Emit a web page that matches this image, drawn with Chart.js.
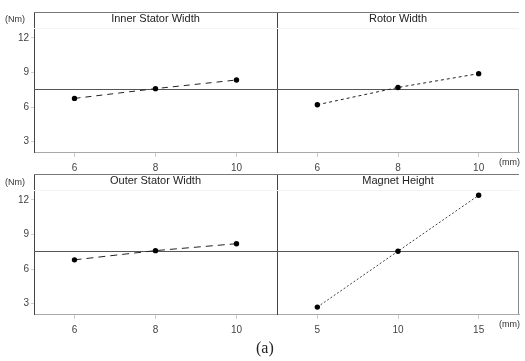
<!DOCTYPE html>
<html>
<head>
<meta charset="utf-8">
<script src="https://cdn.jsdelivr.net/npm/chart.js@4.4.1/dist/chart.umd.min.js"></script>
<style>
  body { margin: 0; background: #fff; }
  #wrap { position: relative; width: 525px; height: 361px; overflow: hidden; }
  #wrap canvas { position: absolute; left: 0; top: 0; }
  .unit { position: absolute; font: 9px "Liberation Sans", Arial, sans-serif; color: #333; }
  #caption { position: absolute; left: 256px; top: 339px; font: 16px "Liberation Serif", serif; color: #222; }
</style>
</head>
<body>
<div id="wrap">
  <canvas id="c1" width="525" height="361"></canvas>
  <canvas id="c2" width="525" height="361"></canvas>
  <canvas id="c3" width="525" height="361"></canvas>
  <canvas id="c4" width="525" height="361"></canvas>
  <span class="unit" style="left:5px;top:14px;">(Nm)</span>
  <span class="unit" style="left:5px;top:177px;">(Nm)</span>
  <span class="unit" style="left:499px;top:157px;">(mm)</span>
  <span class="unit" style="left:499px;top:319px;">(mm)</span>
  <div id="caption">(a)</div>
</div>
<script>
// main effects plot data, torque (Nm) per level (mm)
const innerStatorLevels = ["6", "8", "10"];
const innerStatorTorque = [6.75, 7.6, 8.35];
const rotorLevels = ["6", "8", "10"];
const rotorTorque = [6.2, 7.7, 8.9];
const outerStatorLevels = ["6", "8", "10"];
const outerStatorTorque = [6.8, 7.6, 8.2];
const magnetLevels = ["5", "10", "15"];
const magnetTorque = [2.7, 7.55, 12.4];
const torqueTicks = [3, 6, 9, 12];
const grandMean = 7.55;

const frame = {
  id: "frame",
  beforeDatasetsDraw(chart, args, o) {
    const { ctx, chartArea: a, scales } = chart;
    const ym = scales.y.getPixelForValue(grandMean);
    ctx.save();
    ctx.lineWidth = 1;
    // faint band under the title
    ctx.strokeStyle = "#f4f4f4";
    ctx.beginPath();
    ctx.moveTo(a.left, a.top + 16.5); ctx.lineTo(a.right, a.top + 16.5);
    ctx.stroke();
    // top border
    ctx.strokeStyle = "#777";
    ctx.beginPath();
    ctx.moveTo(a.left, a.top + 0.5); ctx.lineTo(a.right, a.top + 0.5);
    ctx.stroke();
    // grand mean
    ctx.strokeStyle = "#555";
    ctx.beginPath();
    ctx.moveTo(a.left, Math.round(ym) + 0.5); ctx.lineTo(a.right, Math.round(ym) + 0.5);
    ctx.stroke();
    if (o.rightEdge) {
      ctx.strokeStyle = "#888";
      ctx.beginPath();
      ctx.moveTo(a.right - 0.5, ym); ctx.lineTo(a.right - 0.5, a.bottom);
      ctx.stroke();
    }
    // panel title
    ctx.fillStyle = "#222";
    ctx.font = "11px 'Liberation Sans', Arial, sans-serif";
    ctx.textAlign = "center";
    ctx.textBaseline = "middle";
    ctx.fillText(o.title, (a.left + a.right) / 2, a.top + 7);
    ctx.restore();
  }
};

function panel(id, title, labels, values, dash, color, left, right, top, bottom) {
  const isLeft = left < 100;
  new Chart(document.getElementById(id), {
    type: "line",
    data: {
      labels,
      datasets: [{
        data: values,
        borderColor: color,
        borderWidth: 1,
        borderDash: dash,
        backgroundColor: "#000",
        pointBackgroundColor: "#000",
        pointBorderWidth: 0,
        pointRadius: 2.7,
        tension: 0,
        fill: false
      }]
    },
    options: {
      responsive: false,
      animation: false,
      devicePixelRatio: 1,
      layout: { padding: { left: isLeft ? 0 : left, right: 525 - right, top: top, bottom: 361 - bottom - 22 } },
      plugins: {
        legend: { display: false },
        tooltip: { enabled: false },
        frame: { title, rightEdge: !isLeft }
      },
      scales: {
        x: {
          type: "category",
          offset: true,
          grid: { display: true, offset: false, drawOnChartArea: false, drawTicks: true, tickLength: 5, color: "#cfcac4" },
          border: { display: true, color: "#a8a8a8" },
          ticks: { color: "#444", padding: 5, font: { size: 10, family: "'Liberation Sans', Arial, sans-serif" }, maxRotation: 0 },
          afterFit(s) { s.height = 22; }
        },
        y: {
          min: 2.1,
          max: 14.25,
          afterBuildTicks(s) { s.ticks = torqueTicks.map(v => ({ value: v })); },
          grid: { display: isLeft, drawOnChartArea: false, drawTicks: true, tickLength: 3, color: "#d8d0c8" },
          border: { display: true, color: "#444" },
          ticks: { display: isLeft, color: "#444", padding: 2, font: { size: 10, family: "'Liberation Sans', Arial, sans-serif" } },
          afterFit(s) { s.width = isLeft ? left : 0; }
        }
      }
    },
    plugins: [frame]
  });
}

panel("c1", "Inner Stator Width", innerStatorLevels, innerStatorTorque, [6, 5], "#222", 34, 277, 12, 152);
panel("c2", "Rotor Width", rotorLevels, rotorTorque, [3, 3], "#222", 277, 519, 12, 152);
panel("c3", "Outer Stator Width", outerStatorLevels, outerStatorTorque, [7, 5], "#222", 34, 277, 174, 314);
panel("c4", "Magnet Height", magnetLevels, magnetTorque, [2, 2], "#444", 277, 519, 174, 314);
</script>
</body>
</html>
